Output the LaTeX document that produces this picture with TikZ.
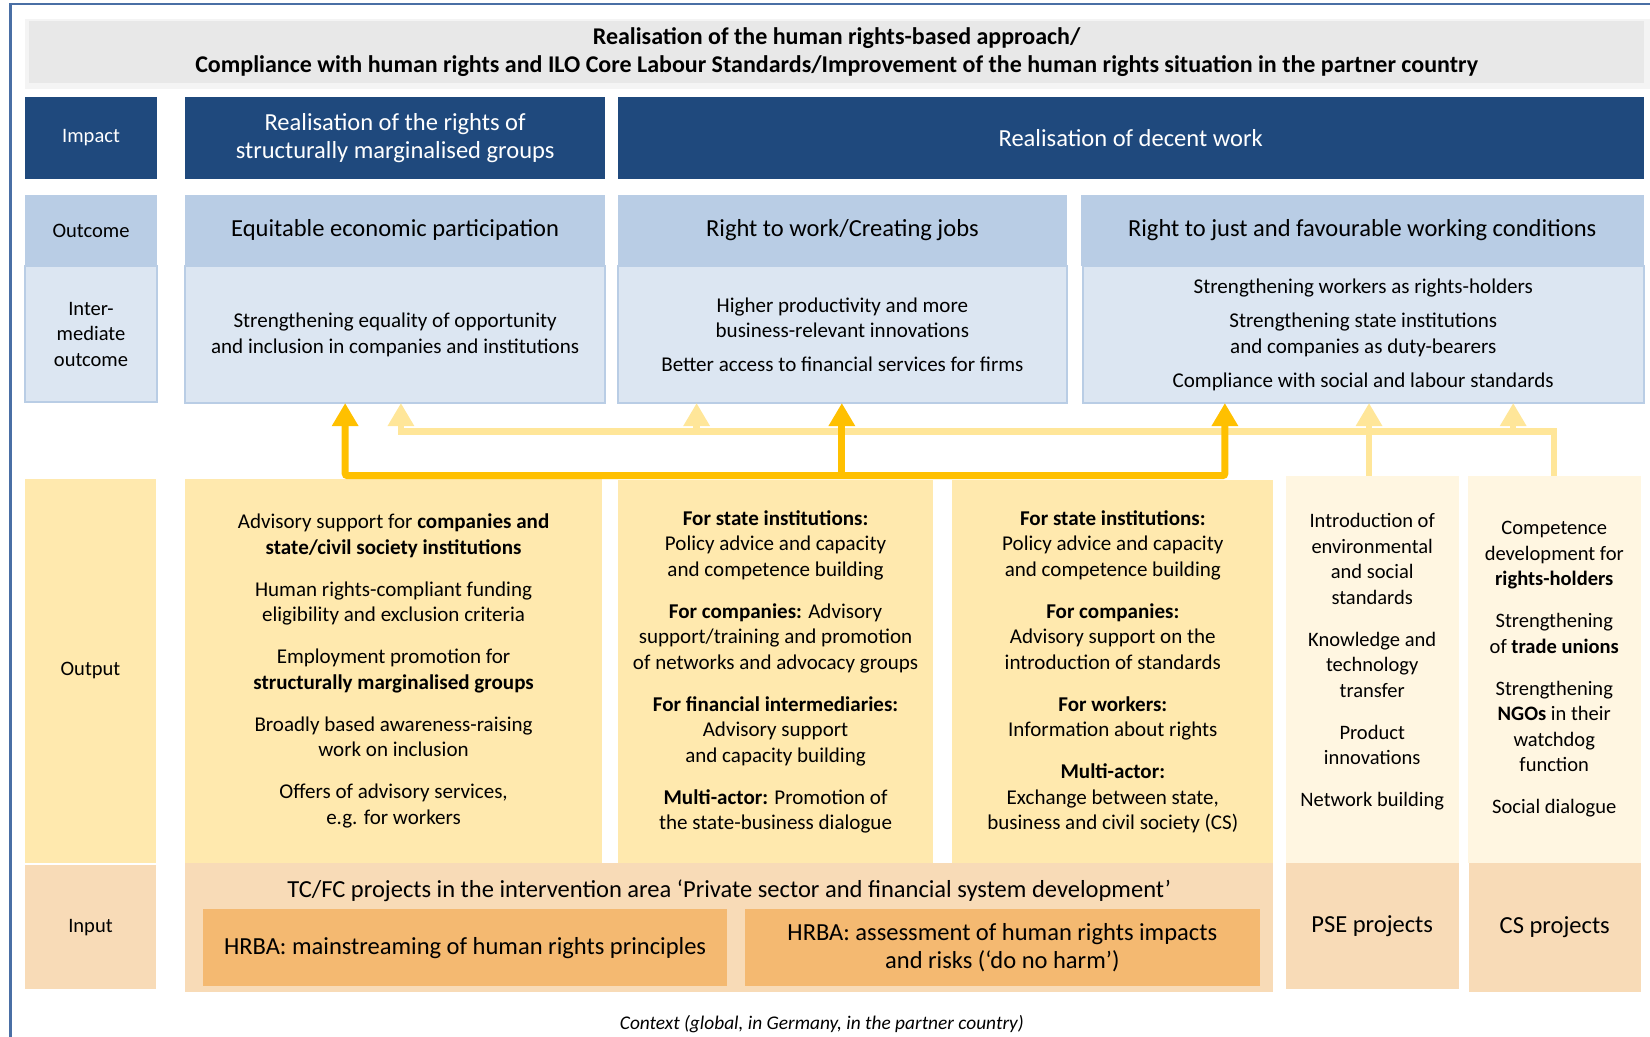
\documentclass[tikz,border=0pt]{standalone}
\usepackage{fontspec}
\setmainfont{Carlito}
\usetikzlibrary{arrows.meta}

\definecolor{framecol}{HTML}{4A6FA5}
\definecolor{titleout}{HTML}{F4F4F4}
\definecolor{titlein}{HTML}{E8E8E8}
\definecolor{impactblue}{HTML}{1F497D}
\definecolor{outcomeblue}{HTML}{B9CDE5}
\definecolor{interblue}{HTML}{DCE6F2}
\definecolor{outyellow}{HTML}{FFE9AE}
\definecolor{outcream}{HTML}{FFF6E1}
\definecolor{inpeach}{HTML}{F8DBB7}
\definecolor{hrbaorange}{HTML}{F4B971}
\definecolor{arrowdark}{HTML}{FFC000}
\definecolor{arrowlight}{HTML}{FFE699}

\newcommand{\bodyfont}{\fontsize{20}{24.3}\selectfont}
\newcommand{\smallbody}{\fontsize{19.5}{24.3}\selectfont}
\newcommand{\headfont}{\fontsize{23.3}{27}\selectfont}
\newcommand{\inputfont}{\fontsize{23.3}{27}\selectfont}

\begin{document}
\begin{tikzpicture}[x=1pt, y=-1pt,
  box/.style={rectangle, inner sep=0pt, outer sep=0pt, anchor=north west, align=center, font=\bodyfont},
  impact/.style={box, fill=impactblue, text=white, minimum height=78, font=\headfont},
  outcome/.style={box, fill=outcomeblue, minimum height=68, font=\headfont},
  inter/.style={box, fill=interblue, draw=outcomeblue, line width=2pt, minimum height=130},
  output/.style={box, fill=outyellow, minimum height=365},
  pseout/.style={box, fill=outcream, minimum height=368},
  input/.style={box, fill=inpeach, font=\inputfont},
  hrba/.style={box, fill=hrbaorange, minimum height=73, font=\inputfont},
  darkline/.style={draw=arrowdark, line width=6.5pt, rounded corners=2pt},
  lightline/.style={draw=arrowlight, line width=6pt},
  darktip/.style={-{Triangle[width=24pt, length=22pt, color=arrowdark]}},
  lighttip/.style={-{Triangle[width=24pt, length=22pt, color=arrowlight]}}]

  \useasboundingbox (0,0) rectangle (1568,985);
  % frame and title band
  \draw[framecol, line width=2pt] (1568,4) -- (10,4) -- (10,985);
  \fill[titleout] (24,18) rectangle (1568,85);
  \node[box, fill=titlein, minimum width=1534, minimum height=59,
        font=\fontsize{22.8}{26}\selectfont\bfseries] (title) at (28,20)
    {Realisation of the human rights-based approach/\\
     Compliance with human rights and ILO Core Labour Standards/Improvement of the human rights situation in the partner country};

  % impact
  \node[impact, minimum width=125, font=\smallbody] (impl) at (24,92) {Impact};
  \node[impact, minimum width=399] (imp1) at (176,92) {Realisation of the rights of\\structurally marginalised groups};
  \node[impact, minimum width=975] (imp2) at (587,92) {Realisation of decent work};

  % outcome and intermediate outcome
  \node[inter, minimum width=125, minimum height=129, font=\smallbody] (intl) at (24,253) {Inter-\\mediate\\outcome};
  \node[inter, minimum width=399] (int1) at (176,253)
    {Strengthening equality of opportunity\\and inclusion in companies and institutions};
  \node[inter, minimum width=427] (int2) at (587,253)
    {Higher productivity and more\\business-relevant innovations\\[8pt]Better access to financial services for firms};
  \node[inter, minimum width=533] (int3) at (1029,253)
    {Strengthening workers as rights-holders\\[8pt]Strengthening state institutions\\and companies as duty-bearers\\[8pt]Compliance with social and labour standards};
  \node[outcome, minimum width=125, font=\smallbody] (outl) at (24,185) {Outcome};
  \node[outcome, minimum width=399] (oc1) at (176,185) {Equitable economic participation};
  \node[outcome, minimum width=427] (oc2) at (587,185) {Right to work/Creating jobs};
  \node[outcome, minimum width=535] (oc3) at (1027,185) {Right to just and favourable working conditions};

  % output
  \node[output, minimum width=124, font=\smallbody] (outputl) at (24,455) {Output};
  \node[output, minimum width=396] (out1) at (176,455)
    {Advisory support for \textbf{companies and}\\\textbf{state/civil society institutions}\\[15.5pt]
     Human rights-compliant funding\\eligibility and exclusion criteria\\[15.5pt]
     Employment promotion for\\\textbf{structurally marginalised groups}\\[15.5pt]
     Broadly based awareness-raising\\work on inclusion\\[15.5pt]
     Offers of advisory services,\\e.g. for workers};
  \node[output, minimum width=300] (out2) at (587,456)
    {\textbf{For state institutions:}\\Policy advice and capacity\\and competence building\\[15.5pt]
     \textbf{For companies:} Advisory\\support/training and promotion\\of networks and advocacy groups\\[15.5pt]
     \textbf{For financial intermediaries:}\\Advisory support\\and capacity building\\[15.5pt]
     \textbf{Multi-actor:} Promotion of\\the state-business dialogue};
  \node[output, minimum width=305] (out3) at (905,456)
    {\textbf{For state institutions:}\\Policy advice and capacity\\and competence building\\[15.5pt]
     \textbf{For companies:}\\Advisory support on the\\introduction of standards\\[15.5pt]
     \textbf{For workers:}\\Information about rights\\[15.5pt]
     \textbf{Multi-actor:}\\Exchange between state,\\business and civil society (CS)};
  \node[pseout, minimum width=164] (out4) at (1222,452) {};
  \node[box, anchor=center, font=\smallbody] (out4text) at (1304,629)
    {Introduction of\\environmental\\and social\\standards\\[15.5pt]
     Knowledge and\\technology\\transfer\\[15.5pt]
     Product\\innovations\\[15.5pt]
     Network building};
  \node[pseout, minimum width=164, font=\smallbody] (out5) at (1395,452)
    {Competence\\development for\\\textbf{rights-holders}\\[15.5pt]
     Strengthening\\of \textbf{trade unions}\\[15.5pt]
     Strengthening\\\textbf{NGOs} in their\\watchdog\\function\\[15.5pt]
     Social dialogue};

  % input
  \node[input, minimum width=124, minimum height=118, font=\smallbody] (inl) at (24,822) {Input};
  \node[input, minimum width=1034, minimum height=123] (in1) at (176,820) {};
  \node[input, fill=none, anchor=base] (inhead) at (693,853)
    {TC/FC projects in the intervention area ‘Private sector and financial system development’};
  \node[hrba, minimum width=498] (hrba1) at (193,864) {HRBA: mainstreaming of human rights principles};
  \node[hrba, minimum width=489] (hrba2) at (708,864) {HRBA: assessment of human rights impacts\\and risks (‘do no harm’)};
  \node[input, minimum width=164, minimum height=120] (in2) at (1222,820) {PSE projects};
  \node[input, minimum width=163, minimum height=123] (in3) at (1396,820) {CS projects};

  \node[anchor=base, font=\fontsize{18.4}{21}\selectfont\itshape] (context) at (781,978)
    {Context (global, in Germany, in the partner country)};

  % light arrows from PSE and CS projects
  \coordinate (lt1) at (381,410);
  \coordinate (lt2) at (1477,410);
  \coordinate (lt3) at (1301,452);
  \draw[lightline, lighttip] (out5.north -| lt2) -- (lt2) -- (lt1) -- (lt1 |- int1.south);
  \draw[lightline, lighttip] (lt3) -- (lt3 |- int3.south);
  \draw[lightline, lighttip] (662,410) -- (662,383);
  \draw[lightline, lighttip] (1438,410) -- (1438,383);

  % dark arrows from TC/FC outputs
  \coordinate (dk1) at (328,452);
  \coordinate (dk2) at (800,452);
  \coordinate (dk3) at (1164,452);
  \draw[darkline, {Triangle[width=24pt, length=22pt, color=arrowdark]}-{Triangle[width=24pt, length=22pt, color=arrowdark]}]
    (dk1 |- int1.south) -- (dk1) -- (dk3) -- (dk3 |- int3.south);
  \draw[darkline, darktip] (dk2) -- (dk2 |- int2.south);
\end{tikzpicture}
\end{document}
